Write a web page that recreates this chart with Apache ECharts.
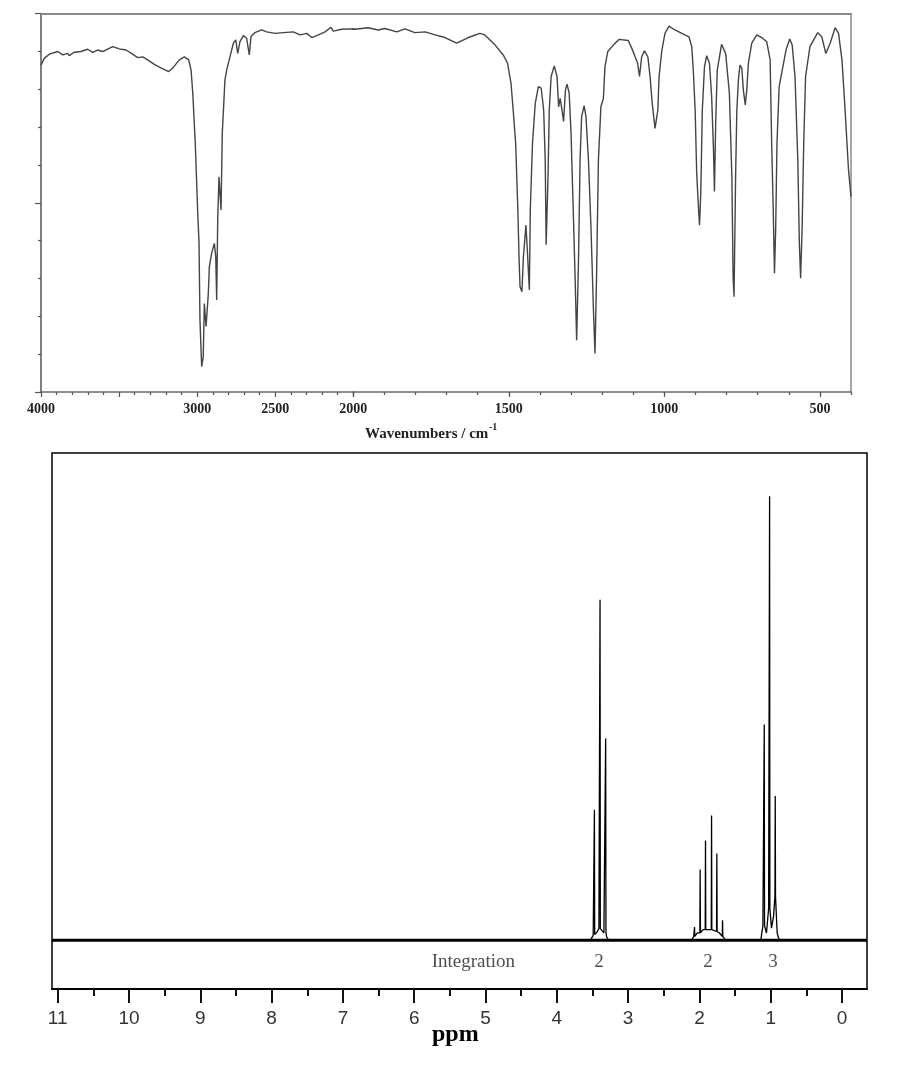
<!DOCTYPE html>
<html><head><meta charset="utf-8">
<script src="https://cdn.jsdelivr.net/npm/echarts@6/dist/echarts.min.js"></script>
<style>html,body{margin:0;padding:0;background:#fff}#c{width:904px;height:1074px}</style>
</head><body><div id="c"></div>
<script>
// ---------- IR spectrum (wavenumber, %T) ----------
const irWave = [4000,3979,3947,3893,3861,3829,3819,3787,3744,3701,3669,3637,3605,3541,3499,3456,3413,3381,3349,3317,3274,3232,3182,3153,3114,3082,3054,3039,3028,3012,2997,2988,2982,2971,2961,2954,2943,2929,2922,2907,2890,2881,2875,2868,2860,2847,2839,2822,2811,2790,2768,2753,2740,2726,2704,2683,2666,2655,2630,2587,2555,2501,2448,2384,2341,2298,2266,2224,2181,2143,2128,2074,2010,1995,1952,1920,1898,1860,1834,1802,1769,1737,1705,1668,1630,1593,1577,1544,1518,1504,1493,1486,1478,1471,1467,1464,1458,1453,1445,1440,1434,1431,1424,1415,1405,1396,1388,1383,1380,1374,1370,1364,1354,1345,1340,1335,1329,1324,1318,1313,1306,1300,1293,1287,1282,1276,1271,1266,1258,1252,1244,1236,1228,1223,1218,1212,1204,1196,1191,1182,1164,1146,1116,1105,1094,1086,1080,1073,1064,1053,1046,1039,1030,1021,1017,1008,998,985,966,944,921,912,907,901,896,890,887,883,878,871,864,855,848,842,839,835,830,816,803,791,783,779,776,771,767,762,757,751,746,740,735,730,719,703,687,671,660,655,650,646,642,638,631,621,609,597,589,580,571,566,562,557,552,546,532,507,494,481,467,451,440,429,419,408,400];
const irTrans = [86.4,88.2,89.3,90.0,89.1,89.5,88.9,89.8,90.0,90.6,89.8,90.4,90.0,91.3,90.7,90.4,89.3,88.4,88.6,87.8,86.6,85.7,84.7,85.8,87.8,88.6,87.8,85.1,79.0,65.7,48.1,39.4,19.0,6.7,9.3,23.4,17.3,25.6,33.1,36.7,39.3,35.8,24.3,46.3,56.9,48.1,68.4,82.5,85.1,88.6,92.2,93.1,89.5,92.6,94.2,93.5,89.1,94.0,95.0,95.7,95.2,94.8,95.0,95.2,94.4,94.8,93.7,94.4,95.2,96.4,95.4,95.9,96.0,95.9,96.3,95.7,96.1,95.2,96.0,95.0,95.2,94.4,93.7,92.2,93.7,94.8,94.4,91.7,89.1,86.9,81.6,74.5,65.7,48.1,35.0,27.8,26.5,35.8,44.1,36.7,27.0,48.1,65.7,76.3,80.7,80.3,74.5,61.3,38.9,56.9,74.5,83.4,86.2,83.4,75.4,77.6,74.5,71.5,79.8,81.4,79.0,68.4,48.1,30.5,13.7,34.9,61.3,72.8,75.7,72.8,61.3,43.7,21.7,10.2,30.5,61.3,75.4,77.6,86.0,90.0,91.7,93.2,92.9,90.9,88.6,86.9,83.4,88.6,90.2,88.6,83.4,76.3,69.7,74.5,83.4,90.4,94.8,96.7,95.7,94.8,93.9,91.3,85.1,74.5,57.8,48.1,44.1,52.5,74.5,86.0,88.9,86.9,78.1,64.0,53.0,71.0,85.1,91.9,89.5,79.0,56.9,30.5,25.2,56.9,74.5,82.5,86.4,85.6,79.8,75.9,79.8,86.9,92.2,94.4,93.7,92.6,87.8,65.7,48.1,31.4,43.7,65.7,80.7,85.1,90.4,93.3,91.7,83.4,61.3,39.3,30.1,43.7,65.7,83.4,91.3,95.0,93.9,89.5,92.2,96.3,94.8,87.8,74.5,58.7,51.6];
const irMajorTicksLow = [500, 1000, 1500, 2000];
const irLabelsLow = [500, 1000, 1500];
const irHiddenLabel = 3500;
const irTitle = 'Wavenumbers / cm';
const irTitleSup = '-1';

// ---------- 1H NMR spectrum ----------
const nmrTicks = [0,1,2,3,4,5,6,7,8,9,10,11];
const nmrHalfTicks = [0.5,1.5,2.5,3.5,4.5,5.5,6.5,7.5,8.5,9.5,10.5];
// sticks: [ppm, height, base level]
const nmrSticks = [
  [3.473, 26.8, 1.2], [3.394, 69.9, 2.4], [3.315, 41.4, 1.5],
  [2.069, 2.7, 0.8], [1.990, 14.5, 1.5], [1.915, 20.5, 2.2], [1.830, 25.6, 2.2], [1.756, 17.8, 1.8], [1.676, 4.1, 0.8],
  [1.091, 44.3, 3.0], [1.016, 91.1, 6.5], [0.937, 29.6, 9.0]
];
// baseline shape (broadened multiplet bases)
const nmrBase = [
  [11.08,0],[3.53,0],[3.49,1.0],[3.44,1.6],[3.41,2.4],[3.37,2.2],[3.34,1.5],[3.30,0.6],[3.27,0],
  [2.11,0],[2.08,0.8],[2.03,1.5],[1.95,2.2],[1.87,2.2],[1.80,2.0],[1.72,1.5],[1.66,0.6],[1.63,0],
  [1.14,0],[1.11,3.0],[1.06,1.5],[1.03,6.5],[0.99,2.5],[0.96,5.0],[0.925,9.0],[0.91,1.5],[0.88,0],[-0.35,0]
];
const integrationText = ['Integration', '2', '2', '3'];
const integrationPpm = [5.17, 3.41, 1.88, 0.97];
const integrationLevel = -4.4;
const nmrTitle = 'ppm';

// ---------- build ----------
const irData = irWave.map((w, i) => [w, irTrans[i]]);
const nmrPts = nmrBase.map(p => [p[0], p[1]]);
const eps = 0.004;
nmrSticks.forEach(s => {
  nmrPts.push([s[0] + eps, s[2]], [s[0], s[1]], [s[0] - eps, s[2]]);
});
nmrPts.sort((a, b) => b[0] - a[0]);
const intData = integrationText.map((t, i) => ({ name: t, value: [integrationPpm[i], integrationLevel] }));

const serifBold = { fontFamily: 'Liberation Serif', fontWeight: 'bold', color: '#222' };
const noSplit = { show: false };

const chart = echarts.init(document.getElementById('c'), null, { renderer: 'canvas' });
chart.setOption({
  animation: false,
  backgroundColor: '#fff',
  title: [
    { text: irTitle, left: 360, top: 422, textStyle: Object.assign({ fontSize: 15 }, serifBold) },
    { text: irTitleSup, left: 484, top: 417, textStyle: Object.assign({ fontSize: 10 }, serifBold) },
    { text: nmrTitle, left: 427, top: 1018, textStyle: { fontFamily: 'Liberation Serif', fontWeight: 'bold', fontSize: 24, color: '#000' } }
  ],
  grid: [
    { left: 41, right: 550.7, top: 13.7, bottom: 682 },
    { left: 353.3, right: 53, top: 13.7, bottom: 682 },
    { left: 52, right: 37, top: 453, bottom: 85, show: true, borderColor: '#000', borderWidth: 1.5 }
  ],
  xAxis: [
    { // 0: IR high range bottom
      gridIndex: 0, type: 'value', min: 2000, max: 4000, inverse: true, interval: 500, position: 'bottom',
      axisLine: { onZero: false, lineStyle: { color: '#6a6a6a', width: 1.5 } },
      axisTick: { length: 5, lineStyle: { color: '#555', width: 1.2 } },
      minorTick: { show: true, splitNumber: 5, length: 3, lineStyle: { color: '#555', width: 1.2 } },
      axisLabel: Object.assign({ fontSize: 14, margin: 10, formatter: v => (v === irHiddenLabel ? '' : String(v)) }, serifBold),
      splitLine: noSplit, minorSplitLine: noSplit
    },
    { // 1: IR high range top border
      gridIndex: 0, type: 'value', min: 2000, max: 4000, inverse: true, position: 'top',
      axisLine: { onZero: false, lineStyle: { color: '#8a8a8a', width: 2 } },
      axisTick: { show: false }, axisLabel: { show: false }, splitLine: noSplit
    },
    { // 2: IR low range bottom (major)
      gridIndex: 1, type: 'value', min: 400, max: 2000, inverse: true, position: 'bottom',
      axisLine: { onZero: false, lineStyle: { color: '#6a6a6a', width: 1.5 } },
      axisTick: { customValues: irMajorTicksLow, length: 5, lineStyle: { color: '#555', width: 1.2 } },
      axisLabel: Object.assign({ customValues: irLabelsLow, fontSize: 14, margin: 10, formatter: v => String(v) }, serifBold),
      splitLine: noSplit
    },
    { // 3: IR low range minor ticks
      gridIndex: 1, type: 'value', min: 400, max: 2000, inverse: true, interval: 100, position: 'bottom',
      axisLine: { show: false, onZero: false },
      axisTick: { length: 3, lineStyle: { color: '#555', width: 1.2 } },
      axisLabel: { show: false }, splitLine: noSplit
    },
    { // 4: IR low range top border
      gridIndex: 1, type: 'value', min: 400, max: 2000, inverse: true, position: 'top',
      axisLine: { onZero: false, lineStyle: { color: '#8a8a8a', width: 2 } },
      axisTick: { show: false }, axisLabel: { show: false }, splitLine: noSplit
    },
    { // 5: NMR ppm major
      gridIndex: 2, type: 'value', min: -0.35, max: 11.08, inverse: true, position: 'bottom',
      axisLine: { onZero: false, lineStyle: { color: '#000', width: 2 } },
      axisTick: { customValues: nmrTicks, length: 14, lineStyle: { color: '#111', width: 2 } },
      axisLabel: { customValues: nmrTicks, fontFamily: 'Liberation Sans', fontSize: 19, color: '#333', margin: 20, formatter: v => String(v) },
      splitLine: noSplit
    },
    { // 6: NMR half ticks
      gridIndex: 2, type: 'value', min: -0.35, max: 11.08, inverse: true, position: 'bottom',
      axisLine: { show: false, onZero: false },
      axisTick: { customValues: nmrHalfTicks, length: 7, lineStyle: { color: '#111', width: 2 } },
      axisLabel: { show: false }, splitLine: noSplit
    }
  ],
  yAxis: [
    {
      gridIndex: 0, type: 'value', min: 0, max: 100, interval: 50, position: 'left',
      axisLine: { show: true, onZero: false, lineStyle: { color: '#555', width: 1.5 } },
      axisTick: { show: true, length: 6, lineStyle: { color: '#555', width: 1.2 } },
      minorTick: { show: true, splitNumber: 5, length: 3, lineStyle: { color: '#555', width: 1.2 } },
      axisLabel: { show: false }, splitLine: noSplit, minorSplitLine: noSplit
    },
    {
      gridIndex: 1, type: 'value', min: 0, max: 100, position: 'right',
      axisLine: { show: true, onZero: false, lineStyle: { color: '#8a8a8a', width: 1.5 } },
      axisTick: { show: false }, axisLabel: { show: false }, splitLine: noSplit
    },
    {
      gridIndex: 2, type: 'value', min: -10, max: 100, show: false, splitLine: noSplit
    }
  ],
  series: [
    { type: 'line', xAxisIndex: 0, yAxisIndex: 0, data: irData, showSymbol: false, symbol: 'none', clip: true,
      lineStyle: { color: '#444', width: 1.4 }, silent: true },
    { type: 'line', xAxisIndex: 2, yAxisIndex: 1, data: irData, showSymbol: false, symbol: 'none', clip: true,
      lineStyle: { color: '#444', width: 1.4 }, silent: true },
    { type: 'line', xAxisIndex: 5, yAxisIndex: 2, data: [[11.08, 0], [-0.35, 0]], showSymbol: false, symbol: 'none',
      lineStyle: { color: '#000', width: 3 }, silent: true },
    { type: 'line', xAxisIndex: 5, yAxisIndex: 2, data: nmrPts, showSymbol: false, symbol: 'none',
      lineStyle: { color: '#000', width: 1.3 }, silent: true },
    { type: 'scatter', xAxisIndex: 5, yAxisIndex: 2, data: intData, symbolSize: 0, silent: true,
      label: { show: true, position: 'inside', formatter: p => p.name, fontFamily: 'Liberation Serif', fontSize: 19, color: '#222' } }
  ]
});
</script></body></html>
